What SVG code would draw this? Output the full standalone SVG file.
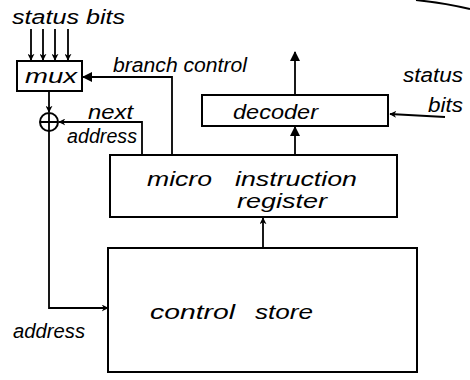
<svg xmlns="http://www.w3.org/2000/svg" width="470" height="380" viewBox="0 0 470 380">
<style>
.box{fill:#fff;stroke:#000;stroke-width:2}
.ln{fill:none;stroke:#000;stroke-width:1.8}
text{font-family:"Liberation Sans",Arial,sans-serif;font-style:italic;font-size:20px;fill:#000}
</style>
<defs>
<marker id="ah" viewBox="0 0 10 10" refX="9" refY="5" markerWidth="7" markerHeight="7" orient="auto" markerUnits="userSpaceOnUse">
<path d="M0,0 L10,5 L0,10 L3,5 Z" fill="#000"/>
</marker>
<marker id="ahb" viewBox="0 0 10 10" refX="9" refY="5" markerWidth="12" markerHeight="10" orient="auto" markerUnits="userSpaceOnUse">
<path d="M0,0 L10,5 L0,10 Z" fill="#000"/>
</marker>
</defs>
<path class="ln" d="M416,0 Q445,3 470,9"/>
<text x="12" y="24" textLength="113" lengthAdjust="spacingAndGlyphs">status bits</text>
<g id="connectors">
<path class="ln" d="M31,29 V60" marker-end="url(#ah)"/>
<path class="ln" d="M43,29 V60" marker-end="url(#ah)"/>
<path class="ln" d="M55,29 V60" marker-end="url(#ah)"/>
<path class="ln" d="M68,29 V60" marker-end="url(#ah)"/>
<path class="ln" d="M172,155 V77 H83" marker-end="url(#ahb)"/>
<path class="ln" d="M49,92 V112" marker-end="url(#ah)"/>
<path class="ln" d="M142,155 V122 H59" marker-end="url(#ah)"/>
<path class="ln" d="M49,131 V308 H108" marker-end="url(#ah)"/>
<path class="ln" d="M263,248 V218" marker-end="url(#ah)"/>
<path class="ln" d="M295,155 V127" marker-end="url(#ahb)"/>
<path class="ln" d="M295,95 V52" marker-end="url(#ahb)"/>
<path class="ln" d="M445,117 L390,114" marker-end="url(#ah)"/>
</g>
<g id="mux">
<rect class="box" x="17" y="61" width="65" height="30"/>
<text x="25" y="83" textLength="52" lengthAdjust="spacingAndGlyphs">mux</text>
</g>
<g id="adder">
<circle class="box" cx="49" cy="122" r="9"/>
<path class="ln" d="M40,122 H58 M49,113 V131"/>
</g>
<text x="113" y="72" textLength="134" lengthAdjust="spacingAndGlyphs">branch control</text>
<text x="88" y="119" textLength="45" lengthAdjust="spacingAndGlyphs">next</text>
<text x="67" y="143" textLength="70" lengthAdjust="spacingAndGlyphs">address</text>
<g id="decoder">
<rect class="box" x="202" y="95" width="186" height="31"/>
<text x="233" y="119" textLength="85" lengthAdjust="spacingAndGlyphs">decoder</text>
</g>
<text x="403" y="82" textLength="60" lengthAdjust="spacingAndGlyphs">status</text>
<text x="428" y="112" textLength="35" lengthAdjust="spacingAndGlyphs">bits</text>
<g id="register">
<rect class="box" x="110" y="155" width="287" height="62"/>
<text x="147" y="186" textLength="65" lengthAdjust="spacingAndGlyphs">micro</text>
<text x="235" y="186" textLength="122" lengthAdjust="spacingAndGlyphs">instruction</text>
<text x="237" y="208" textLength="90" lengthAdjust="spacingAndGlyphs">register</text>
</g>
<g id="store">
<rect class="box" x="108" y="248" width="309" height="124"/>
<text x="150" y="319" textLength="85" lengthAdjust="spacingAndGlyphs">control</text>
<text x="255" y="319" textLength="58" lengthAdjust="spacingAndGlyphs">store</text>
</g>
<text x="13" y="338" textLength="72" lengthAdjust="spacingAndGlyphs">address</text>
</svg>
